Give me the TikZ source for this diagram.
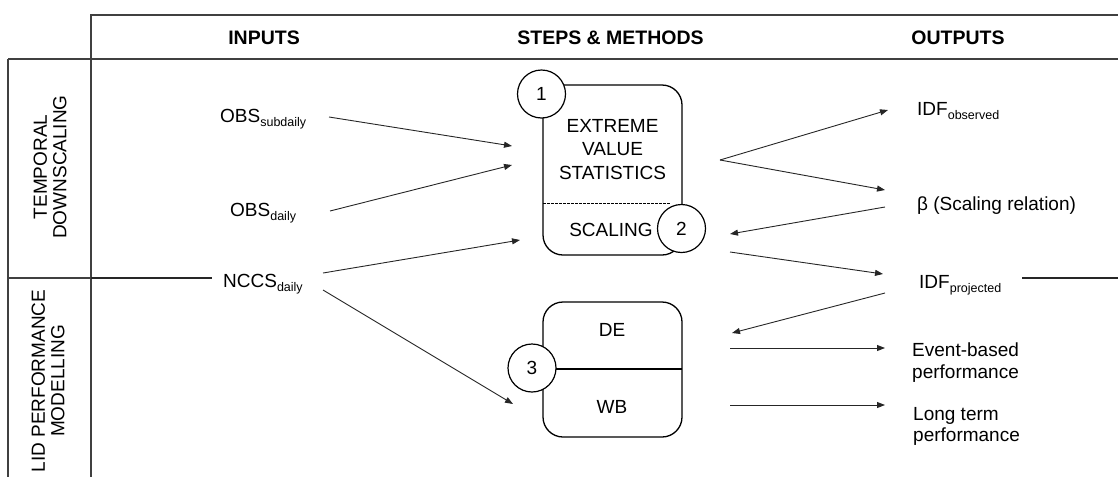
\documentclass[tikz,border=0pt]{standalone}
\usepackage{fontspec}
\setmainfont{Liberation Sans}
\usetikzlibrary{arrows.meta}
% lowered small index text after a name
\newcommand\subtxt[1]{\raisebox{-4pt}{\fontsize{12.5}{14}\selectfont #1}}

\begin{document}
\begin{tikzpicture}[x=1pt,y=-1pt,
  every node/.style={font=\fontsize{19}{23}\selectfont, inner sep=0pt},
  grid/.style={line width=1.4pt, draw=black!75},
  head/.style={font=\bfseries\fontsize{19.5}{23}\selectfont},
  lbl/.style={anchor=base west},
  rowlbl/.style={rotate=90, align=center, font=\fontsize{19}{19.5}\selectfont},
  outlbl/.style={anchor=north west, align=left, font=\fontsize{19}{21.5}\selectfont},
  arr/.style={-{Triangle[length=8pt,width=6pt]}, line width=0.9pt, draw=black!85},
  link/.style={line width=0.9pt, draw=black!85},
  stepbox/.style={draw, line width=1.3pt, rounded corners=20pt, minimum width=139pt},
  num/.style={draw, circle, fill=white, line width=1.2pt, minimum size=48pt},
]
\useasboundingbox (0,0) rectangle (1118,477);

% table frame
\draw[grid] (90,15) -- (1118,15);
\draw[grid] (8,59) -- (1118,59);
\draw[grid] (91,15) -- (91,477);
\draw[grid] (8,59) -- (8,477);
\draw[grid] (8,278) -- (91,278);

% column headers
\node[head] (hin) at (264,38) {INPUTS};
\node[head] (hsteps) at (610.5,38) {STEPS \& METHODS};
\node[head] (hout) at (958,38) {OUTPUTS};

% row headers
\node[rowlbl] (rtd) at (50,167) {TEMPORAL\\DOWNSCALING};
\node[rowlbl] (rlid) at (48,381) {LID PERFORMANCE\\MODELLING};

% inputs
\node[lbl] (obssub) at (220,122) {OBS\subtxt{subdaily}};
\node[lbl] (obsd) at (230,216) {OBS\subtxt{daily}};
\node[lbl] (nccs) at (223,287) {NCCS\subtxt{daily}};

% method boxes
\node[stepbox, minimum height=170pt] (evs) at (612.5,170) {};
\node[stepbox, minimum height=135pt] (lid) at (612.5,369.5) {};
\draw[dash pattern=on 2.5pt off 1.5pt, line width=0.8pt] (543,203) -- (670,203);
\draw[line width=1.2pt] (532,369) -- (682,369);

\node[anchor=north, align=center, font=\fontsize{19}{23.5}\selectfont] (evstxt) at (612.5,119) {EXTREME\\VALUE\\STATISTICS};
\node[anchor=base] (scal) at (611,236) {SCALING};
\node[anchor=base] (de) at (612,336) {DE};
\node[anchor=base] (wb) at (612,413) {WB};

% step numbers
\node[num] (c1) at (541.5,94) {1};
\node[num] (c2) at (681.5,228.5) {2};
\node[num] (c3) at (532,368) {3};

% outputs
\node[lbl] (idfo) at (917,115) {IDF\subtxt{observed}};
\node[lbl] (beta) at (917,210) {β (Scaling relation)};
\node[lbl] (idfp) at (919,288) {IDF\subtxt{projected}};
\node[outlbl] (evt) at (912,343) {Event-based\\performance};
\node[outlbl] (ltp) at (913,407) {Long term\\performance};

% connector ends
\coordinate (sepin) at (212,278);
\coordinate (sepout) at (1022,278);
\coordinate (sepright) at (1118,278);
\coordinate (a1s) at (329,117);  \coordinate (a1e) at (512,146);
\coordinate (a2s) at (330,211);  \coordinate (a2e) at (512,165);
\coordinate (a3s) at (323,273);  \coordinate (a3e) at (520,240);
\coordinate (a4s) at (323,290);  \coordinate (a4e) at (513,404);
\coordinate (fork) at (720,160);
\coordinate (a5e) at (888,110);  \coordinate (a6e) at (885,190);
\coordinate (a7s) at (885,207);  \coordinate (a7e) at (730,234);
\coordinate (a8s) at (730,252);  \coordinate (a8e) at (883,274);
\coordinate (a9s) at (885,293);  \coordinate (a9e) at (732,333);
\coordinate (a10s) at (730,348); \coordinate (a10e) at (885,348);
\coordinate (a11s) at (730,405); \coordinate (a11e) at (885,405);

% row divider running through the table
\draw[link, line width=1.1pt] (91,278) -- (sepin);
\draw[link, line width=1.1pt] (sepout) -- (sepright);

% flows
\draw[arr] (a1s) -- (a1e);
\draw[arr] (a2s) -- (a2e);
\draw[arr] (a3s) -- (a3e);
\draw[arr] (a4s) -- (a4e);
\draw[arr] (fork) -- (a5e);
\draw[arr] (fork) -- (a6e);
\draw[arr] (a7s) -- (a7e);
\draw[arr] (a8s) -- (a8e);
\draw[arr] (a9s) -- (a9e);
\draw[arr] (a10s) -- (a10e);
\draw[arr] (a11s) -- (a11e);
\end{tikzpicture}
\end{document}
